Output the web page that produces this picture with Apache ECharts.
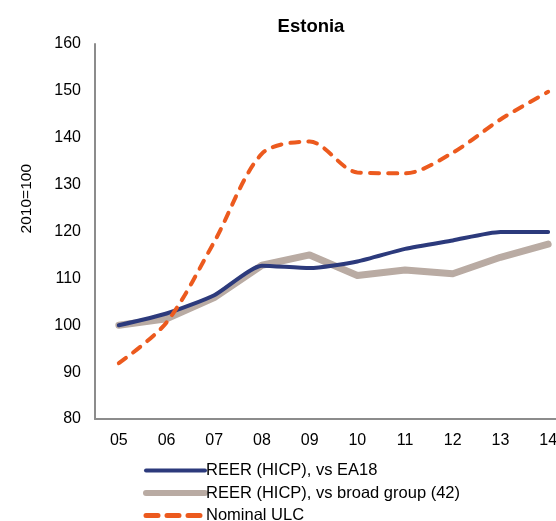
<!DOCTYPE html>
<html>
<head>
<meta charset="utf-8">
<script src="https://cdn.jsdelivr.net/npm/echarts@6/dist/echarts.min.js"></script>
<style>html,body{margin:0;padding:0;background:#fff;overflow:hidden}#c{width:572px;height:540px}</style>
</head>
<body>
<div id="c"></div>
<script>
var categories = ['05','06','07','08','09','10','11','12','13','14'];
var reerEA18 = [100, 102.5, 106.4, 112.7, 112.2, 113.6, 116.3, 118.1, 119.9, 119.9];
var reerBroad = [100, 101.4, 105.9, 112.8, 115.0, 110.6, 111.8, 111.0, 114.5, 117.3];
var nominalULC = [91.9, 100.6, 117.8, 136.6, 139.2, 132.6, 132.4, 136.8, 143.9, 149.8];
var yTicks = {min: 80, max: 160, interval: 10};
var seriesNames = ['REER (HICP), vs EA18', 'REER (HICP), vs broad group (42)', 'Nominal ULC'];

var font = 'Liberation Sans, Arial, sans-serif';
var chart = echarts.init(document.getElementById('c'), null, {renderer: 'canvas'});
chart.setOption({
  animation: false,
  backgroundColor: '#fff',
  title: {
    text: 'Estonia', left: 306, top: 12, textAlign: 'center',
    textStyle: {fontFamily: font, fontSize: 18.5, fontWeight: 'bold', color: '#000'}
  },
  graphic: [{
    type: 'text', left: 19, top: 164, rotation: Math.PI / 2,
    style: {text: '2010=100', font: '15.5px ' + font, fill: '#000'}
  }],
  grid: {left: 95, top: 44, width: 477, height: 375},
  legend: {
    orient: 'vertical', left: 138, top: 457, itemWidth: 59, itemHeight: 14, itemGap: 5.5,
    itemStyle: {opacity: 0},
    data: [
      {name: seriesNames[0], lineStyle: {width: 4}},
      {name: seriesNames[1], lineStyle: {width: 6}},
      {name: seriesNames[2], lineStyle: {width: 5, type: [12, 9], cap: 'round'}}
    ],
    textStyle: {fontFamily: font, fontSize: 16.5, color: '#000', padding: [0,0,0,-4]}
  },
  xAxis: {
    type: 'category', data: categories, boundaryGap: true,
    axisLine: {lineStyle: {color: '#8c8c8c', width: 2}},
    axisTick: {show: false},
    axisLabel: {fontFamily: font, fontSize: 16, color: '#000', margin: 14}
  },
  yAxis: {
    type: 'value', min: yTicks.min, max: yTicks.max, interval: yTicks.interval,
    axisLine: {show: true, lineStyle: {color: '#8c8c8c', width: 2}},
    axisTick: {show: false},
    splitLine: {show: false},
    axisLabel: {fontFamily: font, fontSize: 16, color: '#000', margin: 14}
  },
  series: [
    {name: seriesNames[1], type: 'line', data: reerBroad, symbol: 'none', z: 2,
     lineStyle: {color: '#b9aba3', width: 7, cap: 'round', join: 'round'}, itemStyle: {color: '#b9aba3'}},
    {name: seriesNames[0], type: 'line', data: reerEA18, symbol: 'none', smooth: 0.2, z: 3,
     lineStyle: {color: '#2c3a7c', width: 4, cap: 'round'}, itemStyle: {color: '#2c3a7c'}},
    {name: seriesNames[2], type: 'line', data: nominalULC, symbol: 'none', smooth: 0.3, z: 4,
     lineStyle: {color: '#ec5a1e', width: 4, type: [9, 9], cap: 'round'}, itemStyle: {color: '#ec5a1e'}}
  ]
});
</script>
</body>
</html>
